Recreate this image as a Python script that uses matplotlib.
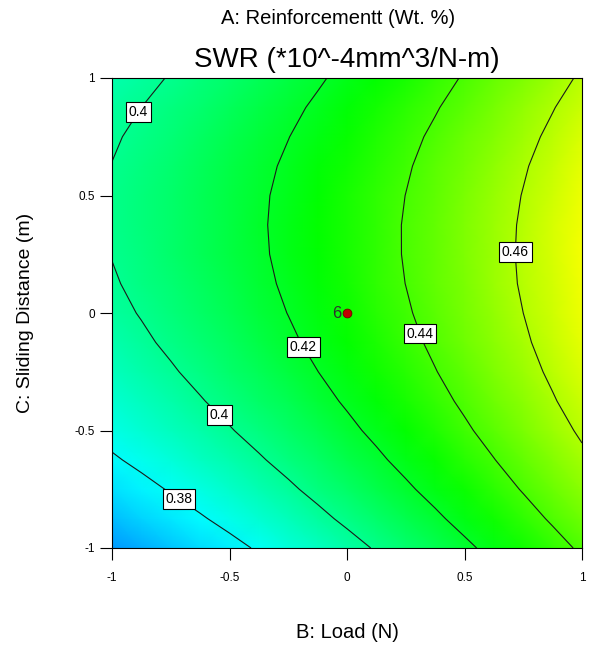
import numpy as np
import matplotlib
matplotlib.use("Agg")
import matplotlib.pyplot as plt
from matplotlib.colors import LinearSegmentedColormap, Normalize

plt.rcParams['font.family'] = ['Liberation Sans', 'DejaVu Sans']

# coded factor levels (B: Load, C: Sliding Distance)
load_levels = [-1, -0.875, -0.75, -0.625, -0.5, -0.375, -0.25, -0.125, 0,
               0.125, 0.25, 0.375, 0.5, 0.625, 0.75, 0.875, 1]
dist_levels = [-1, -0.875, -0.75, -0.625, -0.5, -0.375, -0.25, -0.125, 0,
               0.125, 0.25, 0.375, 0.5, 0.625, 0.75, 0.875, 1]

# SWR values; one list per sliding-distance level, load from -1 to 1
swr_c_m1000 = [0.3601, 0.3640, 0.3681, 0.3723, 0.3767, 0.3812, 0.3859, 0.3908, 0.3958, 0.4010, 0.4064, 0.4119, 0.4176, 0.4234, 0.4294, 0.4356, 0.4419]
swr_c_m0875 = [0.3669, 0.3708, 0.3747, 0.3789, 0.3832, 0.3877, 0.3924, 0.3972, 0.4022, 0.4073, 0.4126, 0.4180, 0.4237, 0.4295, 0.4354, 0.4415, 0.4478]
swr_c_m0750 = [0.3731, 0.3769, 0.3808, 0.3849, 0.3892, 0.3936, 0.3982, 0.4030, 0.4079, 0.4130, 0.4182, 0.4236, 0.4292, 0.4349, 0.4408, 0.4468, 0.4531]
swr_c_m0625 = [0.3787, 0.3824, 0.3863, 0.3903, 0.3945, 0.3989, 0.4034, 0.4081, 0.4130, 0.4180, 0.4232, 0.4285, 0.4340, 0.4397, 0.4455, 0.4515, 0.4577]
swr_c_m0500 = [0.3836, 0.3873, 0.3911, 0.3951, 0.3993, 0.4036, 0.4080, 0.4127, 0.4175, 0.4224, 0.4276, 0.4329, 0.4383, 0.4439, 0.4497, 0.4556, 0.4617]
swr_c_m0375 = [0.3880, 0.3916, 0.3953, 0.3993, 0.4033, 0.4076, 0.4120, 0.4166, 0.4213, 0.4262, 0.4313, 0.4365, 0.4419, 0.4475, 0.4532, 0.4591, 0.4651]
swr_c_m0250 = [0.3917, 0.3952, 0.3989, 0.4028, 0.4068, 0.4110, 0.4154, 0.4199, 0.4246, 0.4294, 0.4344, 0.4396, 0.4449, 0.4504, 0.4561, 0.4619, 0.4679]
swr_c_m0125 = [0.3947, 0.3982, 0.4019, 0.4057, 0.4097, 0.4138, 0.4181, 0.4226, 0.4272, 0.4320, 0.4369, 0.4421, 0.4473, 0.4528, 0.4584, 0.4641, 0.4701]
swr_c_p0000 = [0.3972, 0.4006, 0.4042, 0.4080, 0.4119, 0.4160, 0.4202, 0.4246, 0.4292, 0.4339, 0.4388, 0.4439, 0.4491, 0.4545, 0.4600, 0.4657, 0.4716]
swr_c_p0125 = [0.3990, 0.4024, 0.4059, 0.4096, 0.4135, 0.4175, 0.4217, 0.4261, 0.4306, 0.4353, 0.4401, 0.4451, 0.4502, 0.4556, 0.4611, 0.4667, 0.4725]
swr_c_p0250 = [0.4003, 0.4036, 0.4070, 0.4107, 0.4145, 0.4185, 0.4226, 0.4269, 0.4313, 0.4359, 0.4407, 0.4457, 0.4508, 0.4560, 0.4615, 0.4671, 0.4728]
swr_c_p0375 = [0.4009, 0.4041, 0.4075, 0.4111, 0.4149, 0.4188, 0.4228, 0.4271, 0.4315, 0.4360, 0.4407, 0.4456, 0.4507, 0.4559, 0.4612, 0.4668, 0.4725]
swr_c_p0500 = [0.4008, 0.4040, 0.4074, 0.4109, 0.4146, 0.4185, 0.4225, 0.4266, 0.4310, 0.4355, 0.4401, 0.4450, 0.4500, 0.4551, 0.4604, 0.4659, 0.4715]
swr_c_p0625 = [0.4002, 0.4033, 0.4066, 0.4101, 0.4137, 0.4175, 0.4215, 0.4256, 0.4299, 0.4343, 0.4389, 0.4437, 0.4486, 0.4537, 0.4590, 0.4644, 0.4700]
swr_c_p0750 = [0.3989, 0.4020, 0.4052, 0.4086, 0.4122, 0.4160, 0.4198, 0.4239, 0.4281, 0.4325, 0.4371, 0.4418, 0.4466, 0.4517, 0.4569, 0.4622, 0.4678]
swr_c_p0875 = [0.3970, 0.4000, 0.4032, 0.4066, 0.4101, 0.4138, 0.4176, 0.4216, 0.4258, 0.4301, 0.4346, 0.4392, 0.4441, 0.4490, 0.4542, 0.4595, 0.4649]
swr_c_p1000 = [0.3945, 0.3975, 0.4006, 0.4039, 0.4074, 0.4110, 0.4148, 0.4187, 0.4228, 0.4271, 0.4315, 0.4361, 0.4409, 0.4458, 0.4509, 0.4561, 0.4615]

contour_levels = [0.38, 0.40, 0.42, 0.44, 0.46]
label_positions = [(-0.91, 0.87), (-0.53, -0.42), (-0.70, -0.77),
                   (-0.18, -0.14), (0.32, -0.085), (0.72, 0.26)]

design_point_x = [0]
design_point_y = [0]
design_point_count = ["6"]

tick_vals = [-1, -0.5, 0, 0.5, 1]
tick_labels = ["-1", "-0.5", "0", "0.5", "1"]

Z = np.array([swr_c_m1000, swr_c_m0875, swr_c_m0750, swr_c_m0625, swr_c_m0500,
              swr_c_m0375, swr_c_m0250, swr_c_m0125, swr_c_p0000, swr_c_p0125,
              swr_c_p0250, swr_c_p0375, swr_c_p0500, swr_c_p0625, swr_c_p0750,
              swr_c_p0875, swr_c_p1000])
X, Y = np.meshgrid(load_levels, dist_levels)

cmap = LinearSegmentedColormap.from_list(
    "de", ["#0000ff", "#00ffff", "#00ff00", "#ffff00", "#ff0000"])
norm = Normalize(vmin=0.331, vmax=0.523)

fig = plt.figure(figsize=(5.95, 6.5), dpi=100)
ax = fig.add_axes([112 / 595, 1 - 548 / 650, 470 / 595, 470 / 650])

ax.pcolormesh(X, Y, Z, shading='gouraud', cmap=cmap, norm=norm)
cs = ax.contour(X, Y, Z, levels=contour_levels, colors='#1a1a1a', linewidths=0.8)
texts = ax.clabel(cs, manual=label_positions, inline=False,
                  fmt=lambda v: f"{v:g}", fontsize=10, colors='black')
for t in texts:
    t.set_rotation(0)
    t.set_zorder(6)
    t.set_bbox(dict(boxstyle='square,pad=0.2', fc='white', ec='black', lw=0.8))

ax.scatter(design_point_x, design_point_y, s=40, color='#c00000',
           edgecolor='#700000', linewidth=0.6, zorder=5)
for x, y, s in zip(design_point_x, design_point_y, design_point_count):
    ax.text(x - 0.025, y, s, ha='right', va='center', fontsize=12, color='#303030', zorder=5)

ax.set_xlim(-1, 1)
ax.set_ylim(-1, 1)
ax.set_xticks(tick_vals)
ax.set_xticklabels(tick_labels)
ax.set_yticks(tick_vals)
ax.set_yticklabels(tick_labels)
ax.tick_params(direction='out', length=8.5, width=0.8, labelsize=8.5)
ax.tick_params(axis='x', pad=9)
ax.tick_params(axis='y', pad=4)
for sp in ax.spines.values():
    sp.set_linewidth(0.8)

fig.text(347 / 595, 1 - 633 / 650, "B: Load (N)", ha='center', va='center', fontsize=14.5)
fig.text(25 / 595, 1 - 313 / 650, "C: Sliding Distance (m)", ha='center', va='center',
         rotation=90, fontsize=14)
fig.text(347 / 595, 1 - 60 / 650, "SWR (*10^-4mm^3/N-m)", ha='center', va='center', fontsize=20)
fig.text(338 / 595, 1 - 18 / 650, "A: Reinforcementt (Wt. %)", ha='center', va='center', fontsize=14.5)

fig.savefig("out.png", dpi=100)
